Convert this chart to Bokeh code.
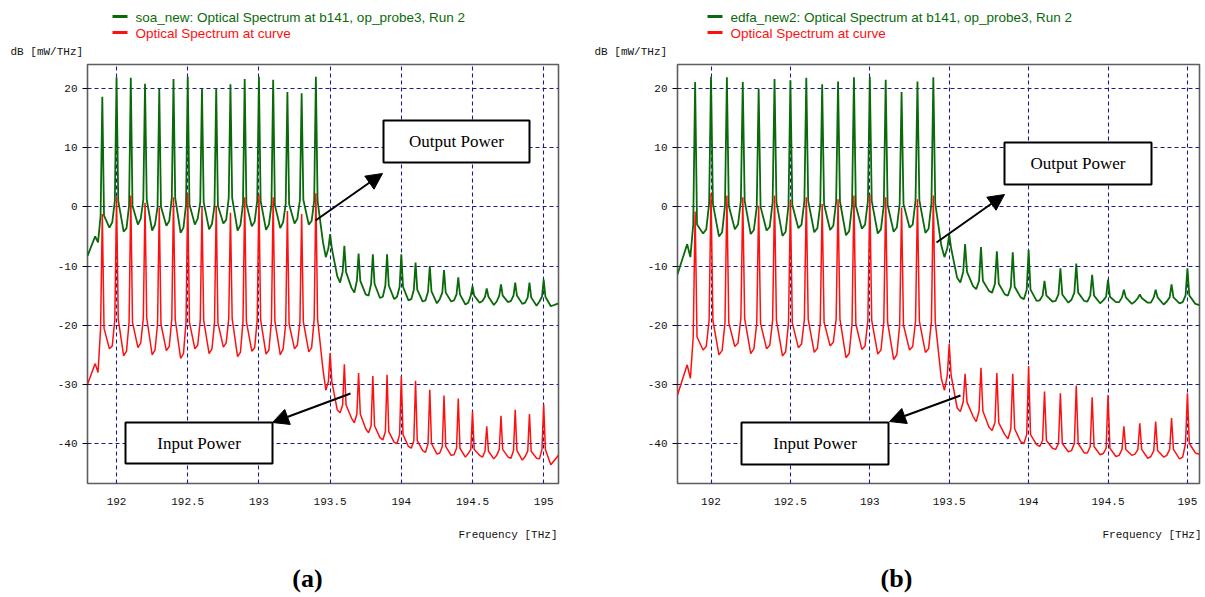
from bokeh.plotting import figure
from bokeh.layouts import row, column
from bokeh.models import Label, Arrow, NormalHead, FixedTicker, BoxAnnotation, Range1d
from bokeh.core.properties import value
from bokeh.embed import file_html
from bokeh.resources import INLINE

# ---------------- data ----------------
x_ticks = [192, 192.5, 193, 193.5, 194, 194.5, 195]
x_tick_labels = ["192", "192.5", "193", "193.5", "194", "194.5", "195"]
y_ticks = [20, 10, 0, -10, -20, -30, -40]
y_tick_labels = ["20", "10", "0", "-10", "-20", "-30", "-40"]

channels = [191.9, 192.0, 192.1, 192.2, 192.3, 192.4, 192.5, 192.6, 192.7, 192.8,
            192.9, 193.0, 193.1, 193.2, 193.3, 193.4,
            193.5, 193.6, 193.7, 193.8, 193.9, 194.0, 194.1, 194.2, 194.3, 194.4,
            194.5, 194.6, 194.7, 194.8, 194.9, 195.0]

# panel (a): soa_new
a_green_peak = [18.6, 21.9, 21.8, 20.8, 19.9, 21.6, 22.0, 20.0, 20.1, 20.7, 21.6, 22.0, 21.5, 19.4, 19.2, 22.0,
                -4.6, -6.6, -7.9, -8.0, -8.0, -8.0, -9.4, -10.0, -10.7, -11.9, -13.4, -13.8, -13.1, -12.8, -12.8, -12.3]
a_green_knee = [-1.5, 1.0, 0.2, 1.2, 0.0, 1.5, 0.4, 0.8, 0.2, 1.5, 0.5, 1.0, 0.3, 0.5, 1.2, 1.0,
                -7.0, -11.0, -12.5, -13.0, -13.3, -13.5, -14.0, -14.3, -14.5, -14.8, -15.0, -15.2, -15.0, -15.0, -15.3, -15.2]
a_green_dip = [-6.0, -2.6, -3.6, -2.0, -3.0, -2.4, -3.5, -2.0, -2.9, -2.2, -3.1, -2.5, -3.0, -2.6, -2.0, -2.4,
               -8.5, -12.8, -14.5, -15.0, -15.2, -15.2, -15.6, -15.8, -15.6, -15.8, -16.2, -15.9, -16.0, -15.9, -16.2, -16.0]
a_green_floor = [-5.0, -3.5, -4.2, -3.0, -4.0, -3.2, -4.4, -3.0, -3.8, -2.8, -4.0, -3.3, -3.9, -3.6, -2.8, -3.0,
                 -6.0, -11.7, -13.7, -14.8, -15.4, -15.6, -15.8, -16.0, -16.3, -16.0, -16.5, -16.2, -16.6, -16.1, -16.4, -16.7, -16.8]
a_green_edge = [-8.3, -16.3]

a_red_peak = [-1.2, 1.7, 1.9, 0.7, -0.1, 1.6, 2.3, 0.0, 0.2, -1.0, 1.6, 2.1, 1.6, -0.7, -1.2, 2.3,
              -24.7, -26.6, -28.1, -28.6, -28.4, -28.6, -29.4, -30.9, -31.9, -32.4, -34.6, -37.1, -35.3, -34.3, -35.0, -33.4]
a_red_knee = [-20.5, -19.0, -19.5, -18.8, -19.8, -19.0, -19.5, -19.2, -19.6, -18.9, -19.4, -19.1, -19.3, -19.8, -19.4, -19.0,
              -29.5, -33.5, -35.0, -37.0, -38.0, -38.5, -39.5, -40.0, -40.5, -40.8, -41.0, -41.3, -41.0, -41.2, -41.3, -41.0]
a_red_dip = [-28.0, -23.5, -24.4, -23.0, -24.2, -23.6, -24.8, -23.4, -24.0, -23.0, -24.6, -23.8, -24.2, -24.0, -23.4, -23.8,
             -31.0, -34.8, -36.5, -38.2, -39.4, -40.0, -40.8, -41.5, -41.6, -41.9, -41.7, -42.3, -42.0, -42.5, -42.2, -42.6]
a_red_floor = [-26.5, -24.0, -25.2, -23.8, -25.0, -24.3, -25.6, -24.0, -24.8, -23.7, -25.3, -24.4, -24.9, -25.0, -24.0, -24.5,
               -27.5, -34.3, -35.7, -37.5, -39.0, -39.8, -40.5, -41.2, -41.8, -42.0, -42.3, -42.0, -42.6, -42.3, -42.8, -42.5, -43.6]
a_red_edge = [-30.0, -42.0]

# panel (b): edfa_new2
b_green_peak = [21.1, 22.0, 21.9, 21.1, 20.0, 21.6, 21.4, 21.8, 20.7, 21.2, 21.9, 22.0, 21.5, 19.4, 21.2, 21.9,
                -4.6, -6.3, -6.8, -7.5, -7.7, -7.3, -12.5, -10.4, -9.6, -11.5, -12.3, -14.0, -14.8, -14.0, -13.1, -10.4]
b_green_knee = [-3.0, 0.5, 0.2, 1.0, 0.0, 0.8, 0.3, 1.0, 0.4, 0.9, 0.2, 1.0, 0.3, 0.5, 1.1, 0.6,
                -7.0, -11.0, -12.5, -13.0, -13.5, -14.0, -15.0, -14.8, -14.5, -15.0, -15.2, -15.3, -15.4, -15.3, -15.3, -15.0]
b_green_dip = [-8.5, -3.8, -4.3, -3.0, -3.9, -3.4, -4.2, -3.0, -3.6, -3.2, -4.1, -3.0, -3.8, -3.5, -3.0, -3.7,
               -8.5, -12.8, -13.9, -14.5, -15.0, -15.6, -15.8, -15.9, -15.7, -16.0, -15.8, -16.1, -16.0, -16.2, -16.0, -16.1]
b_green_floor = [-6.3, -4.5, -5.0, -3.8, -4.6, -4.0, -4.9, -3.6, -4.3, -3.9, -4.8, -3.7, -4.5, -4.2, -3.5, -4.4,
                 -6.5, -12.0, -13.4, -14.2, -14.8, -15.3, -15.9, -16.0, -16.2, -15.9, -16.3, -16.1, -16.4, -16.2, -16.5, -16.3, -16.4]
b_green_edge = [-11.4, -16.6]

b_red_peak = [-0.8, 2.3, 1.9, 1.6, 0.2, 1.9, 1.0, 1.6, 0.5, 1.3, 1.9, 2.1, 1.6, -0.1, 1.3, 1.9,
              -23.2, -28.2, -27.2, -28.1, -28.2, -26.9, -31.2, -31.5, -30.2, -32.2, -31.8, -37.1, -36.6, -36.3, -35.7, -31.5]
b_red_knee = [-22.0, -19.2, -19.6, -18.9, -19.7, -19.2, -19.6, -19.0, -19.5, -19.0, -19.8, -19.2, -19.5, -20.0, -19.3, -19.4,
              -28.5, -33.0, -34.5, -36.5, -37.5, -38.5, -39.5, -40.0, -40.0, -40.5, -40.8, -41.0, -41.0, -41.2, -41.0, -40.0]
b_red_dip = [-29.0, -23.6, -24.3, -23.0, -24.0, -23.4, -24.5, -23.2, -23.9, -22.9, -24.8, -23.5, -24.2, -25.0, -23.6, -24.0,
             -31.0, -34.6, -36.3, -37.8, -39.2, -40.0, -40.5, -41.0, -41.2, -41.6, -41.7, -42.0, -41.8, -42.2, -42.0, -42.3]
b_red_floor = [-26.7, -24.2, -25.0, -23.6, -24.8, -24.0, -25.2, -23.8, -24.6, -23.5, -25.5, -24.1, -24.9, -25.8, -24.2, -24.6,
               -29.0, -34.0, -35.4, -37.2, -38.5, -39.7, -40.2, -40.8, -41.4, -41.6, -41.9, -42.2, -42.0, -42.5, -42.3, -42.6, -41.6]
b_red_edge = [-31.8, -41.8]

legend_a = "soa_new: Optical Spectrum at b141, op_probe3, Run 2"
legend_b = "edfa_new2: Optical Spectrum at b141, op_probe3, Run 2"
legend_red = "Optical Spectrum at curve"

# ---------------- styling ----------------
GREEN = "#0a6a0a"
RED = "#ff1010"
GRID = "#1a1a8c"
Y0, Y1 = -46.76, 24.06
HEAD_H = 60          # header strip height (page y 0..60)
FRAME_TOP = 64       # page y of frame top
FRAME_BOT = 483      # page y of frame bottom
MAIN_BOT = 30        # bottom border of main plot (tick labels)
MAIN_H = (FRAME_BOT - FRAME_TOP) + (FRAME_TOP - HEAD_H) + MAIN_BOT
FOOT_H = 597 - HEAD_H - MAIN_H


def no_align(fig):
    if "frame_align" in fig.properties():
        fig.frame_align = False
    return fig


def strip(width, height):
    s = figure(width=width, height=height, x_range=Range1d(0, width), y_range=Range1d(height, 0),
               output_backend="svg", toolbar_location=None, title=None,
               x_axis_type=None, y_axis_type=None,
               min_border_left=0, min_border_right=0, min_border_top=0, min_border_bottom=0)
    s.grid.visible = False
    s.outline_line_color = None
    s.background_fill_color = "white"
    s.border_fill_color = "white"
    return no_align(s)


def trace(edge, floor, dip, knee, peak, xlo, xhi):
    xs, ys = [xlo], [edge[0]]
    for i, f in enumerate(channels):
        xs += [f - 0.05, f - 0.03, f - 0.012, f, f + 0.012]
        ys += [floor[i], dip[i], knee[i], peak[i], knee[i]]
    xs += [channels[-1] + 0.05, xhi]
    ys += [floor[-1], edge[1]]
    return xs, ys


def panel(width, left_px, right_px, x0, x1, green, red, legend_text, cfg):
    # ---- header: legend + y-axis title ----
    h = strip(width, HEAD_H)
    sx = cfg["legend_x"]
    h.segment(x0=[sx - 23, sx - 23], y0=[16, 32], x1=[sx - 8, sx - 8], y1=[16, 32],
              line_color=[GREEN, RED], line_width=3)
    h.text(x=[sx, sx], y=[17, 33], text=[legend_text, legend_red], text_color=[GREEN, RED],
           text_font=value("Liberation Sans"), text_font_size="13.5px",
           text_baseline="middle", text_align="left")
    h.text(x=[cfg["ylab_x"]], y=[51], text=["dB [mW/THz]"], text_font=value("Liberation Mono"),
           text_font_size="11px", text_baseline="middle", text_align="left", text_color="#111111")

    # ---- main plot ----
    p = figure(width=width, height=MAIN_H, x_range=Range1d(x0, x1), y_range=Range1d(Y0, Y1),
               output_backend="svg", toolbar_location=None, title=None,
               min_border_left=left_px, min_border_right=width - right_px,
               min_border_top=FRAME_TOP - HEAD_H, min_border_bottom=MAIN_BOT)
    no_align(p)
    p.background_fill_color = "white"
    p.border_fill_color = "white"
    p.outline_line_color = "#5e5e5e"
    p.outline_line_width = 1.6

    def dx(px):
        return x0 + (px - left_px) * (x1 - x0) / (right_px - left_px)

    def dy(py):
        return Y1 - (py - FRAME_TOP) * (Y1 - Y0) / (FRAME_BOT - FRAME_TOP)

    p.xaxis.ticker = FixedTicker(ticks=x_ticks)
    p.xaxis.major_label_overrides = dict(zip(x_ticks, x_tick_labels))
    p.yaxis.ticker = FixedTicker(ticks=y_ticks)
    p.yaxis.major_label_overrides = dict(zip(y_ticks, y_tick_labels))
    for ax in (p.xaxis[0], p.yaxis[0]):
        ax.axis_line_color = None
        ax.minor_tick_line_color = None
        ax.major_label_text_font = "Liberation Mono"
        ax.major_label_text_font_size = "11px"
        ax.major_label_text_color = "#111111"
    p.xaxis.major_tick_line_color = None
    p.xaxis.major_label_standoff = 8
    p.yaxis.major_tick_out = 5
    p.yaxis.major_tick_in = 0
    p.yaxis.major_tick_line_color = "black"
    p.yaxis.major_label_standoff = 5
    for g in (p.xgrid[0], p.ygrid[0]):
        g.grid_line_color = GRID
        g.grid_line_dash = "4 3"
        g.grid_line_width = 1.1

    gx, gy = trace(*green, x0, x1)
    rx, ry = trace(*red, x0, x1)
    p.line(gx, gy, line_color=GREEN, line_width=1.8)
    p.line(rx, ry, line_color=RED, line_width=1.5)

    for (bl, br, bt, bb, label) in cfg["boxes"]:
        p.add_layout(BoxAnnotation(left=dx(bl), right=dx(br), top=dy(bt), bottom=dy(bb),
                                   fill_color="white", fill_alpha=1.0, line_color="black",
                                   line_alpha=1.0, line_width=2))
        p.add_layout(Label(x=dx((bl + br) / 2), y=dy((bt + bb) / 2), text=label, text_font="Liberation Serif",
                           text_font_size="17px", text_align="center", text_baseline="middle", text_color="black"))
    for (xs, ys, xe, ye) in cfg["arrows"]:
        p.add_layout(Arrow(end=NormalHead(size=16, fill_color="black", line_color="black"),
                           x_start=dx(xs), y_start=dy(ys), x_end=dx(xe), y_end=dy(ye),
                           line_color="black", line_width=2))

    # ---- footer: x-axis title + panel tag ----
    f = strip(width, FOOT_H)
    base = HEAD_H + MAIN_H
    f.text(x=[cfg["xlab_x"]], y=[534 - base], text=["Frequency [THz]"], text_font=value("Liberation Mono"),
           text_font_size="11px", text_baseline="middle", text_align="right", text_color="#111111")
    f.text(x=[cfg["tag_x"]], y=[578 - base], text=[cfg["tag"]], text_font=value("Liberation Serif"),
           text_font_size="26px", text_font_style="bold", text_baseline="middle", text_align="center",
           text_color="black")
    return column(h, p, f, spacing=0)


OFF = 590
pa = panel(590, 87, 558, 191.796, 195.104,
           (a_green_edge, a_green_floor, a_green_dip, a_green_knee, a_green_peak),
           (a_red_edge, a_red_floor, a_red_dip, a_red_knee, a_red_peak),
           legend_a,
           dict(legend_x=135, ylab_x=10, xlab_x=557, tag_x=307, tag="(a)",
                boxes=[(383, 529, 120, 162, "Output Power"), (125, 272, 422, 463, "Input Power")],
                arrows=[(315, 220, 382, 173), (350, 393, 272, 422)]))
pb = panel(615, 677 - OFF, 1199 - OFF, 191.789, 195.076,
           (b_green_edge, b_green_floor, b_green_dip, b_green_knee, b_green_peak),
           (b_red_edge, b_red_floor, b_red_dip, b_red_knee, b_red_peak),
           legend_b,
           dict(legend_x=730 - OFF, ylab_x=594 - OFF, xlab_x=1201 - OFF, tag_x=896 - OFF,
                tag="(b)",
                boxes=[(1004 - OFF, 1151 - OFF, 142, 184, "Output Power"), (741 - OFF, 888 - OFF, 422, 464, "Input Power")],
                arrows=[(936 - OFF, 242, 1004 - OFF, 194), (960 - OFF, 395, 889 - OFF, 421)]))

layout = row(pa, pb, spacing=0)
open("out.html", "w").write(file_html(layout, INLINE))
